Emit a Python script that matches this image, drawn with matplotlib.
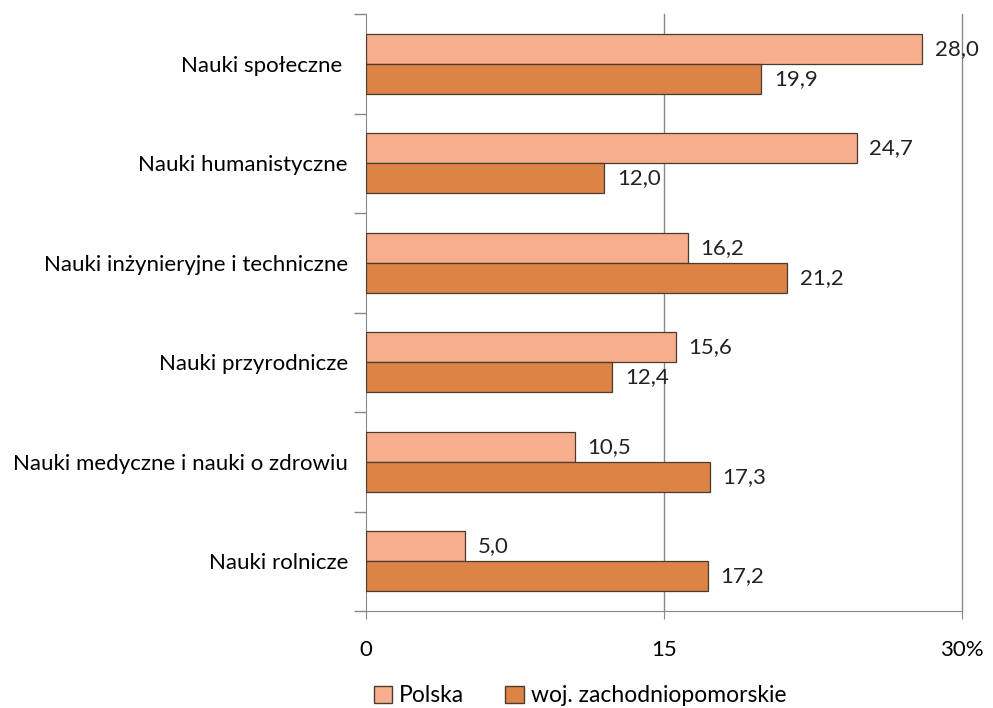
import numpy as np
import matplotlib.pyplot as plt
from matplotlib.patches import Patch

plt.rcParams['font.family'] = ['Lato', 'DejaVu Sans']

categories = ['Nauki społeczne ', 'Nauki humanistyczne', 'Nauki inżynieryjne i techniczne',
              'Nauki przyrodnicze', 'Nauki medyczne i nauki o zdrowiu', 'Nauki rolnicze']
polska = [28.0, 24.7, 16.2, 15.6, 10.5, 5.0]
zachodniopomorskie = [19.9, 12.0, 21.2, 12.4, 17.3, 17.2]
series_names = ['Polska', 'woj. zachodniopomorskie']
colors = ['#F7AE8C', '#DC8346']
xticks = [0, 15, 30]
xtick_labels = ['0', '15', '30%']

FS = 16

fig = plt.figure(figsize=(9.93, 7.08), dpi=100)
ax = fig.add_axes([366 / 993, 97 / 708, 596 / 993, 597 / 708])

y = np.arange(len(categories))
h = 0.3
edge = '#4a3a30'
ax.barh(y - h / 2, polska, height=h, color=colors[0], edgecolor=edge, linewidth=0.9, zorder=3)
ax.barh(y + h / 2, zachodniopomorskie, height=h, color=colors[1], edgecolor=edge, linewidth=0.9, zorder=3)

for yi, v in zip(y - h / 2, polska):
    ax.annotate(f'{v:.1f}'.replace('.', ','), (v, yi), xytext=(9, 0), textcoords='offset points',
                va='center', ha='left', fontsize=FS, color='#222222', zorder=4)
for yi, v in zip(y + h / 2, zachodniopomorskie):
    ax.annotate(f'{v:.1f}'.replace('.', ','), (v, yi), xytext=(9, 0), textcoords='offset points',
                va='center', ha='left', fontsize=FS, color='#222222', zorder=4)

ax.set_xlim(0, 30)
ax.set_ylim(len(categories) - 0.5, -0.5)

# vertical gridlines (drawn unclipped so the 30% line is full width)
for xt in xticks[1:]:
    ax.axvline(xt, color='#888888', linewidth=1, zorder=0, clip_on=False)

ax.set_xticks(xticks)
ax.set_xticklabels(xtick_labels, fontsize=FS)
ax.tick_params(axis='x', length=6, color='#888888', pad=15)

ax.set_yticks(y)
ax.set_yticklabels(categories, fontsize=FS)
ax.tick_params(axis='y', which='major', length=0, pad=13)
ax.set_yticks(np.arange(len(categories) + 1) - 0.5, minor=True)
ax.tick_params(axis='y', which='minor', length=9, color='#888888', width=1)

for s in ['top', 'right']:
    ax.spines[s].set_visible(False)
for s in ['left', 'bottom']:
    ax.spines[s].set_color('#888888')

handles = [Patch(facecolor=c, edgecolor=edge, label=n) for c, n in zip(colors, series_names)]
fig.legend(handles=handles, loc='center', bbox_to_anchor=(580 / 993, 1 - 696 / 708), ncol=2,
           frameon=False, fontsize=16.5, handlelength=0.8, handleheight=0.8, handletextpad=0.3,
           columnspacing=1.8, borderaxespad=0, borderpad=0)

fig.savefig('out.png', dpi=100)
